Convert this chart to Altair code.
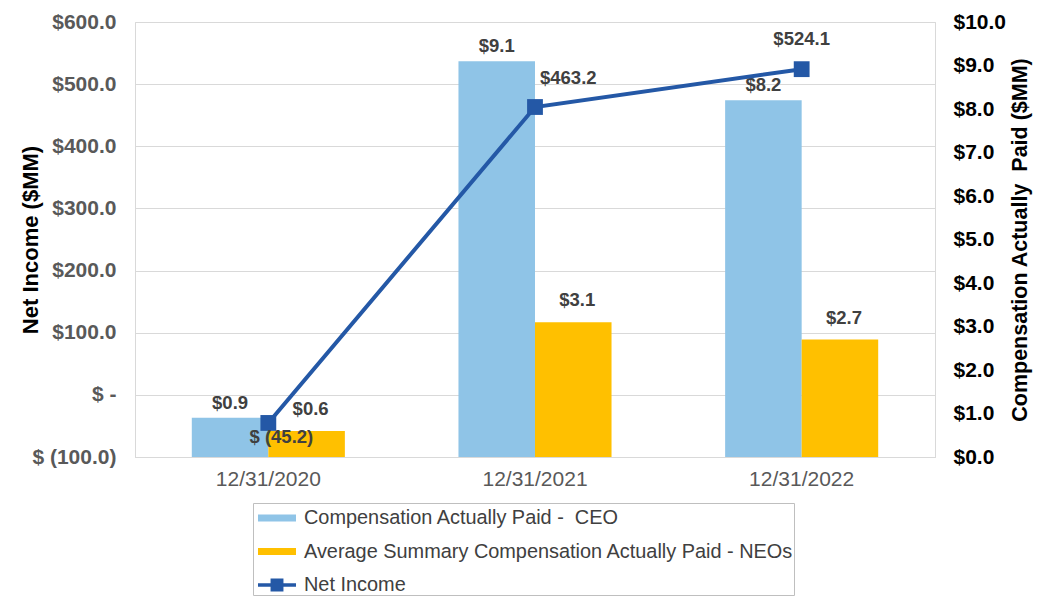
import altair as alt
import pandas as pd

# ---------------- data ----------------
categories = ["12/31/2020", "12/31/2021", "12/31/2022"]
ceo_comp = [0.9, 9.1, 8.2]          # $MM, right axis
neo_comp = [0.6, 3.1, 2.7]          # $MM, right axis
net_income = [-45.2, 463.2, 524.1]  # $MM, left axis
series_names = [
    "Compensation Actually Paid -\u00a0 CEO",
    "Average Summary Compensation Actually Paid - NEOs",
    "Net Income",
]
series_colors = ["#8FC4E7", "#FFC000", "#2458A6"]
left_ticks = [-100, 0, 100, 200, 300, 400, 500, 600]
right_ticks = [0, 1, 2, 3, 4, 5, 6, 7, 8, 9, 10]

# ---------------- tables ----------------
bar_rows = []
for c, v in zip(categories, ceo_comp):
    bar_rows.append({"category": c, "series": series_names[0], "value": v})
for c, v in zip(categories, neo_comp):
    bar_rows.append({"category": c, "series": series_names[1], "value": v})
bar_df = pd.DataFrame(bar_rows)
line_df = pd.DataFrame({
    "category": categories,
    "value": net_income,
    "series": series_names[2],
    "idx": list(range(len(categories))),
})

FONT = "Liberation Sans"
LABEL_GRAY = "#404040"

x_enc = alt.X(
    "category:N", sort=categories,
    scale=alt.Scale(paddingInner=0.426, paddingOuter=0.213),
    axis=alt.Axis(title=None, labelAngle=0, labelFont=FONT, labelFontSize=21,
                  labelColor="#595959", ticks=False, domainColor="#d9d9d9",
                  labelPadding=11),
)
xoff_enc = alt.XOffset("series:N", sort=series_names[:2],
                       scale=alt.Scale(paddingInner=0, paddingOuter=0))

y_right = alt.Y(
    "value:Q",
    scale=alt.Scale(domain=[0, 10], nice=False, zero=True),
    axis=alt.Axis(orient="right", values=right_ticks,
                  labelExpr="'$' + format(datum.value, '.1f')",
                  labelFont=FONT, labelFontSize=21, labelFontWeight="bold",
                  labelColor="black", ticks=False, labelPadding=18,
                  grid=False, domainColor="#d9d9d9",
                  title="Compensation Actually\u00a0 Paid ($MM)",
                  titleFont=FONT, titleFontSize=21.5, titleFontWeight="bold",
                  titleColor="black", titleAngle=270, titleX=85,
                  titleBaseline="middle"),
)

y_left = alt.Y(
    "value:Q",
    scale=alt.Scale(domain=[-100, 600], nice=False, zero=False),
    axis=alt.Axis(orient="left", values=left_ticks,
                  labelExpr="datum.value == 0 ? '$ -' : (datum.value < 0 ? '$ (' + format(-datum.value, '.1f') + ')' : '$' + format(datum.value, '.1f'))",
                  labelFont=FONT, labelFontSize=21, labelFontWeight="bold",
                  labelColor="#595959", ticks=False, labelPadding=19,
                  grid=True, gridColor="#d9d9d9", gridWidth=1,
                  domainColor="#d9d9d9",
                  title="Net Income ($MM)",
                  titleFont=FONT, titleFontSize=22, titleFontWeight="bold",
                  titleColor="black", titleAngle=270, titleX=-105,
                  titleBaseline="middle"),
)

# ---------------- legend definition ----------------
color_scale = alt.Scale(domain=series_names, range=series_colors)
bar_sym = "M-0.667,-0.233L1.867,-0.233L1.867,0.233L-0.667,0.233Z"
line_sym = ("M-0.667,-0.11L0.17,-0.11L0.17,-0.43L1.03,-0.43L1.03,-0.11L1.867,-0.11"
            "L1.867,0.11L1.03,0.11L1.03,0.43L0.17,0.43L0.17,0.11L-0.667,0.11Z")
legend_def = alt.Legend(
    title=None, orient="none", legendX=118, legendY=481, direction="vertical",
    labelFont=FONT, labelFontSize=19.9, labelColor=LABEL_GRAY, labelLimit=700,
    symbolSize=900, symbolStrokeWidth=0, symbolOpacity=1, labelOffset=21,
    rowPadding=8.5, padding=0, strokeColor="#bfbfbf",
)

# ---------------- bars (right axis) ----------------
bars_ceo = alt.Chart(bar_df).transform_filter(
    alt.datum.series == series_names[0]
).mark_bar(color=series_colors[0]).encode(x=x_enc, xOffset=xoff_enc, y=y_right)
bars_neo = alt.Chart(bar_df).transform_filter(
    alt.datum.series == series_names[1]
).mark_bar(color=series_colors[1]).encode(x=x_enc, xOffset=xoff_enc, y=y_right)

text_style = dict(font=FONT, fontSize=18.5, fontWeight="bold", color=LABEL_GRAY,
                  baseline="bottom")
ceo_text = alt.Chart(bar_df).transform_filter(
    alt.datum.series == series_names[0]
).mark_text(dy=-5, **text_style).encode(
    x=x_enc, xOffset=xoff_enc, y=y_right,
    text=alt.Text("value:Q", format="$.1f"),
)
neo_text = alt.Chart(bar_df).transform_filter(
    alt.datum.series == series_names[1]
).mark_text(dy=-12, dx=4, **text_style).encode(
    x=x_enc, xOffset=xoff_enc, y=y_right,
    text=alt.Text("value:Q", format="$.1f"),
)
bar_group = alt.layer(bars_ceo, bars_neo, ceo_text, neo_text)

# ---------------- line (left axis) ----------------
line_base = alt.Chart(line_df).transform_calculate(
    label="datum.value < 0 ? '$ (' + format(-datum.value, '.1f') + ')' : '$' + format(datum.value, '.1f')"
)
line = line_base.mark_line(strokeWidth=4, color=series_colors[2]).encode(
    x=x_enc, y=y_left)
points = line_base.mark_point(shape="square", filled=True, size=250, opacity=1,
                              color=series_colors[2]).encode(x=x_enc, y=y_left)
ni_text0 = line_base.transform_filter(alt.datum.idx == 0).mark_text(
    dx=13, dy=24, **text_style).encode(x=x_enc, y=y_left, text="label:N")
ni_text1 = line_base.transform_filter(alt.datum.idx == 1).mark_text(
    dx=5, dy=-19, align="left", **text_style).encode(x=x_enc, y=y_left, text="label:N")
ni_text2 = line_base.transform_filter(alt.datum.idx == 2).mark_text(
    dy=-20, **text_style).encode(x=x_enc, y=y_left, text="label:N")

# invisible layer that only carries the combined legend
legend_layer = line_base.mark_point(filled=True, opacity=0).encode(
    x=x_enc, y=y_left,
    color=alt.Color("series:N", scale=color_scale, legend=legend_def),
    shape=alt.Shape("series:N",
                    scale=alt.Scale(domain=series_names,
                                    range=[bar_sym, bar_sym, line_sym]),
                    legend=legend_def),
)

line_group = alt.layer(line, points, ni_text0, ni_text1, ni_text2, legend_layer)

chart = alt.layer(bar_group, line_group).resolve_scale(y="independent").properties(
    width=800, height=435,
    autosize=alt.AutoSizeParams(type="none"),
    padding={"left": 127, "top": 14, "right": 103, "bottom": 148},
).configure_view(stroke=None).configure(background="white")

chart.save("out.html", embed_options={"renderer": "svg", "actions": False})
